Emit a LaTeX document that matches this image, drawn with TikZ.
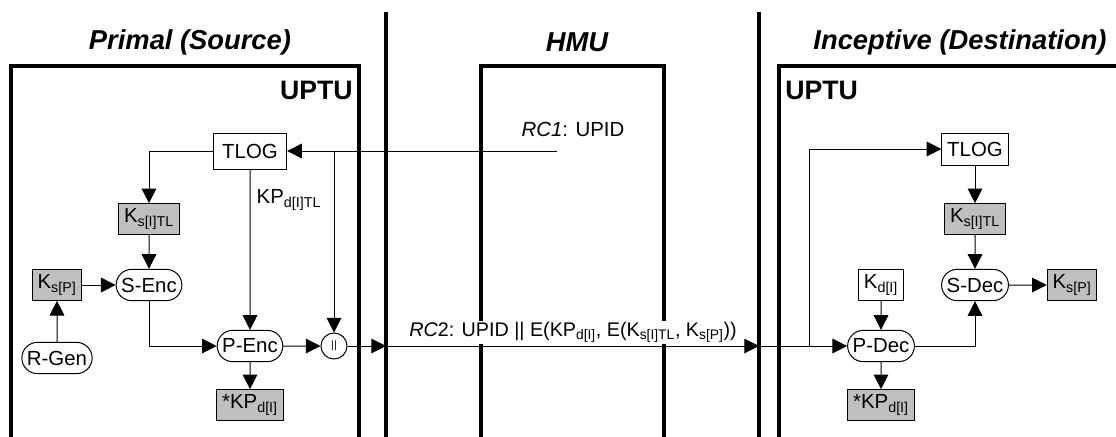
\documentclass[tikz,border=0pt]{standalone}
\usepackage{fontspec}
\setmainfont{Liberation Sans}
\usepackage{tikz}
\usetikzlibrary{arrows.meta, positioning, shapes.geometric, shapes.misc}

\begin{document}
\begin{tikzpicture}[
      x=0.75pt, y=-0.75pt,
      node distance=49.5pt,
      every node/.style={font=\fontsize{15.3}{18}\selectfont},
      block/.style={rectangle, draw, line width=0.75pt, minimum height=23pt, inner xsep=4pt, inner ysep=2pt},
      keybox/.style={block, fill=gray!50},
      op/.style={rounded rectangle, draw, line width=0.75pt, minimum height=23.5pt, inner xsep=2.5pt, inner ysep=1pt},
      arrow/.style={->, >={Triangle[length=11pt,width=11pt]}, line width=0.75pt},
      wall/.style={line width=2.4pt},
      title/.style={font=\fontsize{20.5}{24}\selectfont\bfseries\itshape}
  ]
      \useasboundingbox (0,0) rectangle (1116,436);

      % Separators and unit boxes
      \draw[wall] (386,12) -- (386,440);
      \draw[wall] (759,12) -- (759,440);
      \draw[wall] (11,440) |- (359,66) -- (359,440);
      \draw[wall] (481,440) |- (664,66) -- (664,440);
      \draw[wall] (779,440) |- (1120,66);

      % Titles
      \node[title] (tsrc) at (190,42) {Primal (Source)};
      \node[title] (thmu) at (577,42) {HMU};
      \node[title] (tdst) at (960,42) {Inceptive (Destination)};
      \node[anchor=east, inner sep=0pt, font=\fontsize{20}{24}\selectfont\bfseries] (uptuS) at (353,90) {UPTU};
      \node[anchor=west, inner sep=0pt, font=\fontsize{20}{24}\selectfont\bfseries] (uptuD) at (785,90) {UPTU};

      % Primal side
      \node[block, minimum width=55pt, minimum height=27pt] (tlogS) at (250,151) {TLOG};
      \node[keybox] (ksitS) at (149,219) {K\textsubscript{s[I]TL}};
      \node[op, below of=ksitS] (sencS) {S-Enc};
      \node[keybox, left of=sencS, node distance=69pt] (kspS) {K\textsubscript{s[P]}};
      \node[op, below of=kspS, node distance=54.75pt] (rgenS) {R-Gen};
      \node[op] (pencS) at (250,346) {P-Enc};
      \node[keybox, below of=pencS, node distance=44.25pt] (kpS) {*KP\textsubscript{d[I]}};
      \node[circle, draw, line width=0.75pt, minimum size=19.5pt, inner sep=0pt, right of=pencS, node distance=63pt, font=\fontsize{8}{8}\selectfont] (conc) {||};
      \node[anchor=west] (kpLbl) at (252,200) {KP\textsubscript{d[I]TL}};

      % HMU messages
      \coordinate (rcOne) at (557,151);
      \node (rcOneLbl) at (573,129) {\textit{RC1}: UPID};
      \node[fill=white, inner sep=1pt, anchor=south, font=\fontsize{14.8}{18}\selectfont] (rcTwoLbl) at (573,344) {\textit{RC}2: UPID || E(KP\textsubscript{d[I]}, E(K\textsubscript{s[I]TL}, K\textsubscript{s[P]}))};
      \coordinate (sepL) at (386,346);
      \coordinate (sepR) at (759,346);

      % Inceptive side
      \node[block, minimum height=24pt] (tlogD) at (975,149) {TLOG};
      \node[keybox, below of=tlogD, node distance=52.5pt] (ksitD) {K\textsubscript{s[I]TL}};
      \node[op, below of=ksitD] (sdecD) {S-Dec};
      \node[keybox, right of=sdecD, node distance=72.75pt] (kspD) {K\textsubscript{s[P]}};
      \node[block, left of=sdecD, node distance=70.5pt] (kdiD) {K\textsubscript{d[I]}};
      \node[op, below of=kdiD, node distance=45.75pt] (pdecD) {P-Dec};
      \node[keybox, below of=pdecD, node distance=44.25pt] (kpD) {*KP\textsubscript{d[I]}};
      \coordinate (tapD) at (809,346);

      % Arrows
      \draw[arrow] (rcOne) -- (tlogS);
      \draw[arrow] (conc |- tlogS) -- (conc);
      \draw[arrow] (tlogS) -| (ksitS);
      \draw[arrow] (tlogS) -- (pencS);
      \draw[arrow] (ksitS) -- (sencS);
      \draw[arrow] (kspS) -- (sencS);
      \draw[arrow] (rgenS) -- (kspS);
      \draw[arrow] (sencS) |- (pencS);
      \draw[arrow] (pencS) -- (kpS);
      \draw[arrow] (pencS) -- (conc);
      \draw[arrow] (conc) -- (sepL);
      \draw[arrow] (sepL) -- (sepR);
      \draw[arrow] (sepR) -- (pdecD);
      \draw[arrow] (tapD) |- (tlogD);
      \draw[arrow] (tlogD) -- (ksitD);
      \draw[arrow] (ksitD) -- (sdecD);
      \draw[arrow] (sdecD) -- (kspD);
      \draw[arrow] (kdiD) -- (pdecD);
      \draw[arrow] (pdecD) -- (kpD);
      \draw[arrow] (pdecD) -| (sdecD);
  \end{tikzpicture}
\end{document}
